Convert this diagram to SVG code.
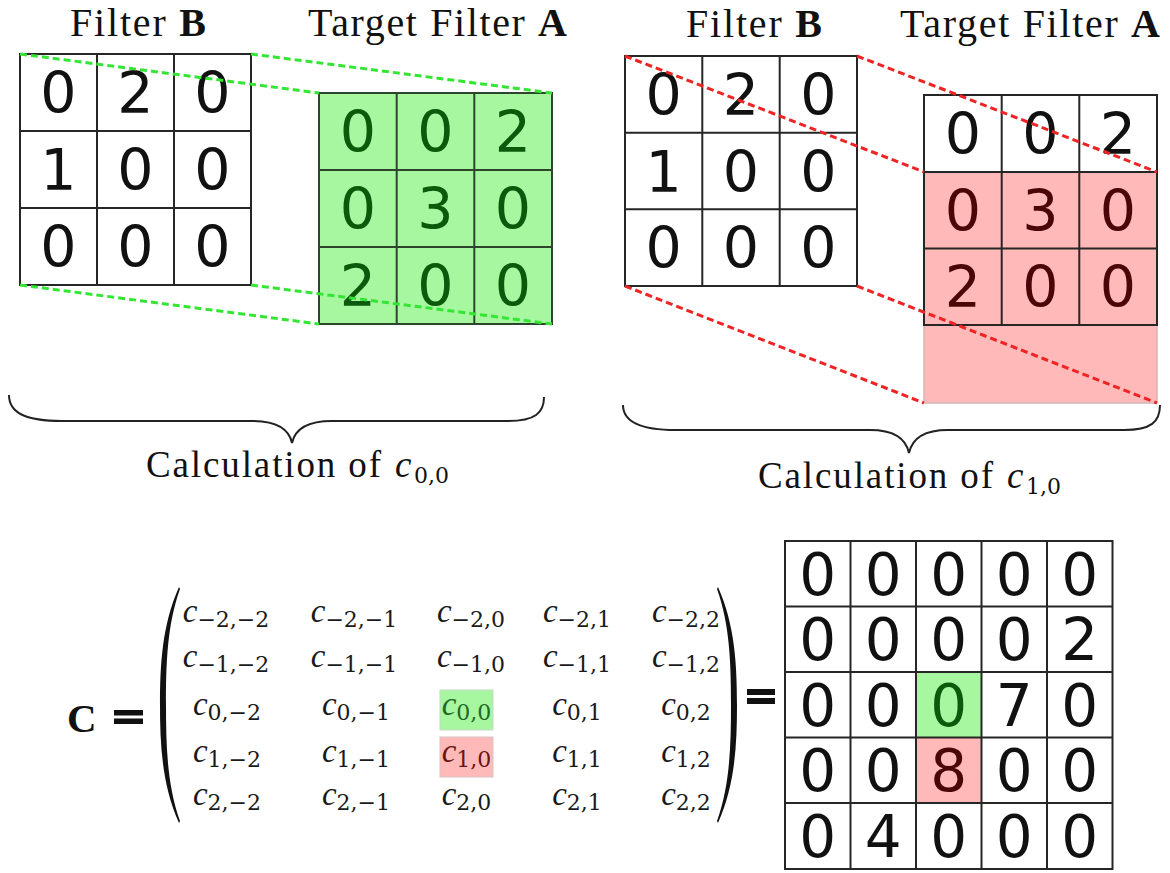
<svg xmlns="http://www.w3.org/2000/svg" width="1170" height="873" viewBox="0 0 1170 873">
<style>
.title{font-family:"Liberation Serif","Times New Roman",serif;font-size:40px;fill:#111}
.b{font-weight:bold}
.grid{fill:none;stroke:#262626;stroke-width:2}
.dig{font-family:"DejaVu Sans",sans-serif;font-size:57px;fill:#111;text-anchor:middle}
.big{font-family:"DejaVu Sans",sans-serif;font-size:58px;fill:#111;text-anchor:middle}
.gd{fill:#0b5a0b}
.rd{fill:#4a0606}
.gfill{fill:#a7f7a1}
.pfill{fill:#ffb9b9}
.gdash{stroke:#33e633;stroke-width:3;stroke-dasharray:7 4;fill:none}
.rdash{stroke:#ee2424;stroke-width:3;stroke-dasharray:7 4;fill:none}
.lbl{font-family:"Liberation Serif","Times New Roman",serif;font-size:37px;fill:#111}
.lsub{font-family:"DejaVu Serif","Liberation Serif",serif;font-size:22px;fill:#111}
.mi{font-family:"Liberation Serif","Times New Roman",serif;font-style:italic}
.m{font-family:"Liberation Serif","Times New Roman",serif;font-size:33px;fill:#1a1a1a;text-anchor:middle}
.m .s{font-family:"DejaVu Serif","Liberation Serif",serif;font-size:22px}
.brace{fill:none;stroke:#222;stroke-width:2}
</style>

<!-- Titles -->
<g id="titles">
<text class="title" x="70" y="36" textLength="136" lengthAdjust="spacing">Filter <tspan class="b">B</tspan></text>
<text class="title" x="308" y="36" textLength="259" lengthAdjust="spacing">Target Filter <tspan class="b">A</tspan></text>
<text class="title" x="686" y="37" textLength="136" lengthAdjust="spacing">Filter <tspan class="b">B</tspan></text>
<text class="title" x="900" y="37" textLength="260" lengthAdjust="spacing">Target Filter <tspan class="b">A</tspan></text>
</g>

<!-- Left Filter B -->
<g id="filterB-left">
<rect x="20" y="54" width="231" height="231" fill="#fff"/>
<path class="grid" d="M20,54H251V285H20Z M97,54V285 M174,54V285 M20,131H251 M20,208H251"/>
<text class="dig" x="58.5" y="113">0</text><text class="dig" x="135.5" y="113">2</text><text class="dig" x="212.5" y="113">0</text>
<text class="dig" x="58.5" y="190">1</text><text class="dig" x="135.5" y="190">0</text><text class="dig" x="212.5" y="190">0</text>
<text class="dig" x="58.5" y="267">0</text><text class="dig" x="135.5" y="267">0</text><text class="dig" x="212.5" y="267">0</text>
</g>

<!-- Left Target A (green) -->
<g id="targetA-left">
<rect class="gfill" x="319" y="93" width="233" height="231"/>
<path class="grid" style="stroke:#2c452c" d="M319,93H552V324H319Z M396.7,93V324 M474.3,93V324 M319,170H552 M319,247H552"/>
<text class="dig gd" x="358" y="152">0</text><text class="dig gd" x="435.5" y="152">0</text><text class="dig gd" x="513" y="152">2</text>
<text class="dig gd" x="358" y="229">0</text><text class="dig gd" x="435.5" y="229">3</text><text class="dig gd" x="513" y="229">0</text>
<text class="dig gd" x="358" y="306">2</text><text class="dig gd" x="435.5" y="306">0</text><text class="dig gd" x="513" y="306">0</text>
</g>

<!-- Right Filter B -->
<g id="filterB-right">
<rect x="625" y="56" width="232" height="230" fill="#fff"/>
<path class="grid" d="M625,56H857V286H625Z M702.3,56V286 M779.7,56V286 M625,132.7H857 M625,209.3H857"/>
<text class="dig" x="663.7" y="115">0</text><text class="dig" x="741" y="115">2</text><text class="dig" x="818.3" y="115">0</text>
<text class="dig" x="663.7" y="192">1</text><text class="dig" x="741" y="192">0</text><text class="dig" x="818.3" y="192">0</text>
<text class="dig" x="663.7" y="268">0</text><text class="dig" x="741" y="268">0</text><text class="dig" x="818.3" y="268">0</text>
</g>

<!-- Right Target A (pink window) -->
<g id="targetA-right">
<rect x="924" y="95" width="233" height="77" fill="#fff"/>
<rect class="pfill" x="924" y="172" width="233" height="153"/>
<rect class="pfill" x="924" y="325" width="233" height="78" stroke="#d6b4b8" stroke-width="1.5"/>
<path class="grid" d="M924,95H1157V325H924Z M1001.7,95V325 M1079.3,95V325 M924,172H1157 M924,248.5H1157"/>
<text class="dig" x="963" y="154">0</text><text class="dig" x="1040.5" y="154">0</text><text class="dig" x="1118" y="154">2</text>
<text class="dig rd" x="963" y="231">0</text><text class="dig rd" x="1040.5" y="231">3</text><text class="dig rd" x="1118" y="231">0</text>
<text class="dig rd" x="963" y="307">2</text><text class="dig rd" x="1040.5" y="307">0</text><text class="dig rd" x="1118" y="307">0</text>
</g>

<!-- Connectors (dashed projection lines) -->
<g id="connectors">
<path class="gdash" d="M20,54L319,93 M251,54L552,93 M20,285L319,324 M251,285L552,324"/>
<path class="rdash" d="M625,56L924,172 M857,56L1157,172 M625,286L924,403 M857,286L1157,403"/>
</g>

<!-- Braces and labels -->
<g id="brace-left">
<path class="brace" d="M9,395 C9,413 26,421 62,421 L252,421 C277,421 289,429 292,443 C295,429 307,421 332,421 L508,421 C535,421 544,413 544,397"/>
<text class="lbl" x="146" y="477" textLength="235" lengthAdjust="spacing">Calculation of</text>
<text class="lbl mi" x="395" y="477">c</text>
<text class="lsub" x="414" y="483">0,0</text>
</g>
<g id="brace-right">
<path class="brace" d="M623,405 C623,422 640,430 676,430 L870,430 C895,430 906,439 909,453 C912,439 923,430 948,430 L1124,430 C1151,430 1160,422 1160,405"/>
<text class="lbl" x="758" y="488" textLength="235" lengthAdjust="spacing">Calculation of</text>
<text class="lbl mi" x="1007" y="488">c</text>
<text class="lsub" x="1026" y="494">1,0</text>
</g>

<!-- Matrix C -->
<g id="matrixC">
<text x="67" y="732" font-family="Liberation Serif, Times New Roman, serif" font-size="41" font-weight="bold" fill="#111">C</text>
<rect x="114" y="710" width="29" height="5.5" fill="#111"/>
<rect x="114" y="718.5" width="29" height="5.5" fill="#111"/>
<path d="M179,587 C162,625 160,665 160,705 C160,745 162,785 179,823 L180,821 C167,785 166,745 166,705 C166,665 167,625 180,589 Z" fill="#111"/>
<path d="M718,587 C735,625 737,665 737,705 C737,745 735,785 718,823 L717,821 C730,785 731,745 731,705 C731,665 730,625 717,589 Z" fill="#111"/>
<rect x="440" y="690" width="53" height="40" fill="#a7f7a1" stroke="#c8d8c8" stroke-width="1"/>
<rect x="440" y="737" width="53" height="40" fill="#ffb9b9" stroke="#d8c4c4" stroke-width="1"/>

<text class="m" x="226" y="622"><tspan class="mi">c</tspan><tspan class="s" dy="5">−2,−2</tspan></text>
<text class="m" x="354" y="622"><tspan class="mi">c</tspan><tspan class="s" dy="5">−2,−1</tspan></text>
<text class="m" x="471" y="622"><tspan class="mi">c</tspan><tspan class="s" dy="5">−2,0</tspan></text>
<text class="m" x="577" y="622"><tspan class="mi">c</tspan><tspan class="s" dy="5">−2,1</tspan></text>
<text class="m" x="686" y="622"><tspan class="mi">c</tspan><tspan class="s" dy="5">−2,2</tspan></text>

<text class="m" x="226" y="667"><tspan class="mi">c</tspan><tspan class="s" dy="5">−1,−2</tspan></text>
<text class="m" x="354" y="667"><tspan class="mi">c</tspan><tspan class="s" dy="5">−1,−1</tspan></text>
<text class="m" x="471" y="667"><tspan class="mi">c</tspan><tspan class="s" dy="5">−1,0</tspan></text>
<text class="m" x="577" y="667"><tspan class="mi">c</tspan><tspan class="s" dy="5">−1,1</tspan></text>
<text class="m" x="686" y="667"><tspan class="mi">c</tspan><tspan class="s" dy="5">−1,2</tspan></text>

<text class="m" x="227" y="715"><tspan class="mi">c</tspan><tspan class="s" dy="5">0,−2</tspan></text>
<text class="m" x="356" y="715"><tspan class="mi">c</tspan><tspan class="s" dy="5">0,−1</tspan></text>
<text class="m" x="466.5" y="715" style="fill:#1f6a1f"><tspan class="mi">c</tspan><tspan class="s" dy="5">0,0</tspan></text>
<text class="m" x="577" y="715"><tspan class="mi">c</tspan><tspan class="s" dy="5">0,1</tspan></text>
<text class="m" x="686" y="715"><tspan class="mi">c</tspan><tspan class="s" dy="5">0,2</tspan></text>

<text class="m" x="227" y="762"><tspan class="mi">c</tspan><tspan class="s" dy="5">1,−2</tspan></text>
<text class="m" x="356" y="762"><tspan class="mi">c</tspan><tspan class="s" dy="5">1,−1</tspan></text>
<text class="m" x="466.5" y="762" style="fill:#6a1515"><tspan class="mi">c</tspan><tspan class="s" dy="5">1,0</tspan></text>
<text class="m" x="577" y="762"><tspan class="mi">c</tspan><tspan class="s" dy="5">1,1</tspan></text>
<text class="m" x="686" y="762"><tspan class="mi">c</tspan><tspan class="s" dy="5">1,2</tspan></text>

<text class="m" x="227" y="805"><tspan class="mi">c</tspan><tspan class="s" dy="5">2,−2</tspan></text>
<text class="m" x="356" y="805"><tspan class="mi">c</tspan><tspan class="s" dy="5">2,−1</tspan></text>
<text class="m" x="466.5" y="805"><tspan class="mi">c</tspan><tspan class="s" dy="5">2,0</tspan></text>
<text class="m" x="577" y="805"><tspan class="mi">c</tspan><tspan class="s" dy="5">2,1</tspan></text>
<text class="m" x="686" y="805"><tspan class="mi">c</tspan><tspan class="s" dy="5">2,2</tspan></text>
</g>

<!-- Result grid -->
<g id="result">
<rect x="747" y="689" width="28" height="6" fill="#111"/>
<rect x="747" y="698" width="28" height="6" fill="#111"/>
<rect x="785" y="541" width="327.5" height="328" fill="#fff"/>
<rect class="gfill" x="916" y="672" width="65.5" height="65.5"/>
<rect class="pfill" x="916" y="737.5" width="65.5" height="65.5"/>
<path class="grid" d="M785,541H1112.5V869H785Z M850.5,541V869 M916,541V869 M981.5,541V869 M1047,541V869 M785,606.5H1112.5 M785,672H1112.5 M785,737.5H1112.5 M785,803H1112.5"/>
<text class="big" x="817.75" y="595">0</text><text class="big" x="883.25" y="595">0</text><text class="big" x="948.75" y="595">0</text><text class="big" x="1014.25" y="595">0</text><text class="big" x="1079.75" y="595">0</text>
<text class="big" x="817.75" y="660">0</text><text class="big" x="883.25" y="660">0</text><text class="big" x="948.75" y="660">0</text><text class="big" x="1014.25" y="660">0</text><text class="big" x="1079.75" y="660">2</text>
<text class="big" x="817.75" y="726">0</text><text class="big" x="883.25" y="726">0</text><text class="big gd" x="948.75" y="726">0</text><text class="big" x="1014.25" y="726">7</text><text class="big" x="1079.75" y="726">0</text>
<text class="big" x="817.75" y="791">0</text><text class="big" x="883.25" y="791">0</text><text class="big rd" x="948.75" y="791">8</text><text class="big" x="1014.25" y="791">0</text><text class="big" x="1079.75" y="791">0</text>
<text class="big" x="817.75" y="857">0</text><text class="big" x="883.25" y="857">4</text><text class="big" x="948.75" y="857">0</text><text class="big" x="1014.25" y="857">0</text><text class="big" x="1079.75" y="857">0</text>
</g>
</svg>
